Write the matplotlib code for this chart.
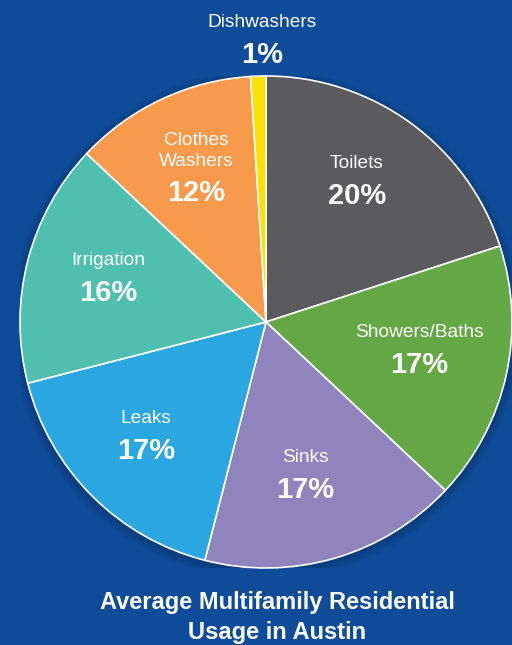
import numpy as np
import matplotlib.pyplot as plt
from matplotlib.patches import Circle

plt.rcParams['font.family'] = ['Liberation Sans', 'DejaVu Sans']

# data (clockwise from the top)
labels = ['Toilets', 'Showers/Baths', 'Sinks', 'Leaks', 'Irrigation', 'Clothes\nWashers', 'Dishwashers']
shares = [20, 17, 17, 17, 16, 12, 1]
colors = ['#5b5b5d', '#63a844', '#9084bc', '#2aa7e0', '#4fc0b0', '#f79a4b', '#ffe000']

# label anchor positions (pie units, center = 0,0)
label_x = [0.37, 0.622, 0.16, -0.488, -0.642, -0.285, -0.016]
label_y = [0.59, -0.098, -0.606, -0.447, 0.195, 0.60, 1.163]

bg = '#0e4c9a'
fig = plt.figure(figsize=(5.12, 6.45), dpi=100, facecolor=bg)
ax = fig.add_axes([20 / 512, 77 / 645, 492 / 512, 492 / 645])
ax.set_facecolor(bg)

# soft shadow behind the pie
for k, a in enumerate([0.06, 0.06, 0.06]):
    ax.add_patch(Circle((0, -0.01), 1.0 + 0.012 * (k + 1), color='black', alpha=a,
                        lw=0, zorder=0))

wedges, _ = ax.pie(shares, colors=colors, startangle=90, counterclock=False,
                   radius=1.0, wedgeprops=dict(edgecolor='white', linewidth=1.2, zorder=2))

# text labels
for lab, val, x, y in zip(labels, shares, label_x, label_y):
    ax.text(x, y + 0.019, lab, ha='center', va='bottom', color='white', fontsize=13.8,
            linespacing=1.25, zorder=5)
    ax.text(x, y - 0.019, '%d%%' % val, ha='center', va='top', color='white',
            fontsize=21, fontweight='bold', zorder=5)

ax.set_xlim(-1, 1)
ax.set_ylim(-1, 1)
ax.set_aspect('equal')
ax.axis('off')

fig.text(277 / 512, 1 - 603 / 645, 'Average Multifamily Residential',
         ha='center', va='center', color='white', fontsize=17, fontweight='bold')
fig.text(277 / 512, 1 - 632 / 645, 'Usage in Austin',
         ha='center', va='center', color='white', fontsize=17, fontweight='bold')

fig.savefig('out.png', dpi=100, facecolor=bg)
